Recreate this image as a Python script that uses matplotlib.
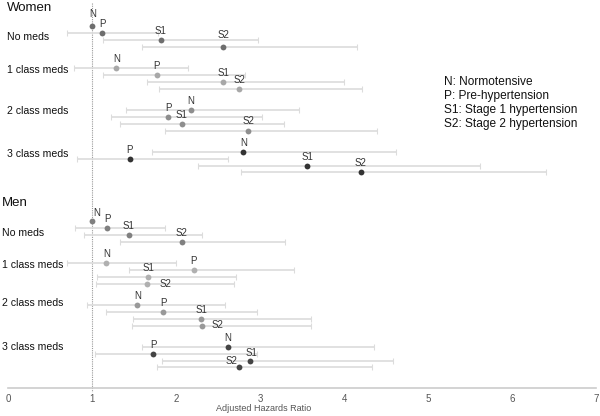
import numpy as np
import matplotlib
matplotlib.use("Agg")
import matplotlib.pyplot as plt

plt.rcParams['font.family'] = ['Liberation Sans', 'DejaVu Sans']

# Data: adjusted hazard ratios with 95% CI (N is the reference group for no meds)
groups = ["No meds", "1 class meds", "2 class meds", "3 class meds"]
categories = ["N", "P", "S1", "S2"]
nan = np.nan

women_hr = [[1.00, 1.12, 1.82, 2.56], [1.29, 1.77, 2.56, 2.75],
            [2.18, 1.91, 2.07, 2.86], [2.80, 1.45, 3.56, 4.20]]
women_lo = [[nan, 0.70, 1.13, 1.60], [0.79, 1.13, 1.65, 1.80],
            [1.40, 1.23, 1.33, 1.87], [1.72, 0.82, 2.26, 2.77]]
women_hi = [[nan, 1.79, 2.98, 4.16], [2.14, 2.82, 4.00, 4.21],
            [3.46, 3.02, 3.29, 4.39], [4.62, 2.62, 5.62, 6.41]]

men_hr = [[1.00, 1.18, 1.44, 2.07], [1.17, 2.21, 1.67, 1.66],
          [1.54, 1.85, 2.30, 2.31], [2.62, 1.73, 2.88, 2.75]]
men_lo = [[nan, 0.80, 0.91, 1.33], [0.70, 1.44, 1.06, 1.05],
          [0.94, 1.17, 1.49, 1.48], [1.60, 1.03, 1.83, 1.77]]
men_hi = [[nan, 1.87, 2.31, 3.30], [2.00, 3.41, 2.71, 2.69],
          [2.58, 2.96, 3.61, 3.61], [4.36, 2.97, 4.58, 4.33]]

legend_lines = ["N: Normotensive", "P: Pre-hypertension",
                "S1: Stage 1 hypertension", "S2: Stage 2 hypertension"]

# Styling
women_colors = ["#6e6e6e", "#a8a8a8", "#8e8e8e", "#333333"]
men_colors = ["#808080", "#b0b0b0", "#999999", "#444444"]
ci_color = "#dcdcdc"

fig = plt.figure(figsize=(6, 4.16), dpi=100)
ax = fig.add_axes([8 / 600, 28 / 416, 588 / 600, 388 / 416])
ax.set_xlim(0, 7)
ax.set_ylim(388, 0)  # y in pixel-like units from top

row_step = 6.9
group_step = 41.9
px = lambda p: (p - 8) / 84.0  # pixel x -> data x for text placement

# label offsets (pixels) for points whose label is not straight above
label_offsets = {
    ("Women", 0, 0): (1, 12),
    ("Women", 0, 3): (0, 12),
    ("Men", 0, 0): (5, 8),
    ("Men", 1, 3): (12, 0),
    ("Men", 2, 3): (10, 0),
    ("Men", 3, 2): (2, 7),
    ("Men", 3, 3): (-7, 6),
}
label_ha = {("Men", 1, 3): "left", ("Men", 2, 3): "left"}

sections = [
    ("Women", 26, 7, 8, women_hr, women_lo, women_hi, women_colors, [11, 2, 1, 2]),
    ("Men", 221, 2, 203, men_hr, men_lo, men_hi, men_colors, [12, 2, -2, 0]),
]

for name, top, xpx, ytitle, hr, lo, hi, colors, glab_dy in sections:
    ax.text(px(xpx), ytitle, name, fontsize=9.5, va="center", ha="left",
            color="#111111", clip_on=False)
    for g, gname in enumerate(groups):
        y0 = top + g * group_step
        ys = y0 + np.arange(len(categories)) * row_step
        ax.text(px(xpx), y0 + glab_dy[g], gname, fontsize=7.6, va="center", ha="left",
                color="#111111", clip_on=False)
        h = np.array(hr[g])
        l = np.array(lo[g])
        u = np.array(hi[g])
        ok = ~np.isnan(l)
        ax.errorbar(h[ok], ys[ok], xerr=[h[ok] - l[ok], u[ok] - h[ok]], fmt="none",
                    ecolor=ci_color, elinewidth=1.2, capsize=2.2, capthick=0.8, zorder=2)
        ax.plot(h, ys, "o", ms=4.2, color=colors[g], mec="none", zorder=3)
        for i, cat in enumerate(categories):
            dx, dy = label_offsets.get((name, g, i), (0, 9))
            ax.annotate(cat, (h[i], ys[i]), xytext=(dx, dy), textcoords="offset pixels",
                        ha=label_ha.get((name, g, i), "center"), va="center",
                        fontsize=7, color="#333333", zorder=4)

# reference line at HR = 1
ax.plot([1, 1], [3, 392], ls=(0, (1, 1)), color="#999999", lw=0.8, zorder=1, clip_on=False)

# legend text block
for k, line in enumerate(legend_lines):
    ax.text(px(444), 82 + k * 14, line, fontsize=8.6, va="center", ha="left", color="#111111")

for s in ["top", "right", "left"]:
    ax.spines[s].set_visible(False)
ax.spines["bottom"].set_color("#cccccc")
ax.spines["bottom"].set_linewidth(1.2)
ax.set_yticks([])
ax.set_xticks(range(0, 8))
ax.tick_params(axis="x", length=0, pad=4, labelsize=7, labelcolor="#555555")
ax.set_xlabel("Adjusted Hazards Ratio", fontsize=6.5, color="#555555")
ax.xaxis.set_label_coords((263.5 - 8) / 588, -0.04)

fig.savefig("out.png", dpi=100)
